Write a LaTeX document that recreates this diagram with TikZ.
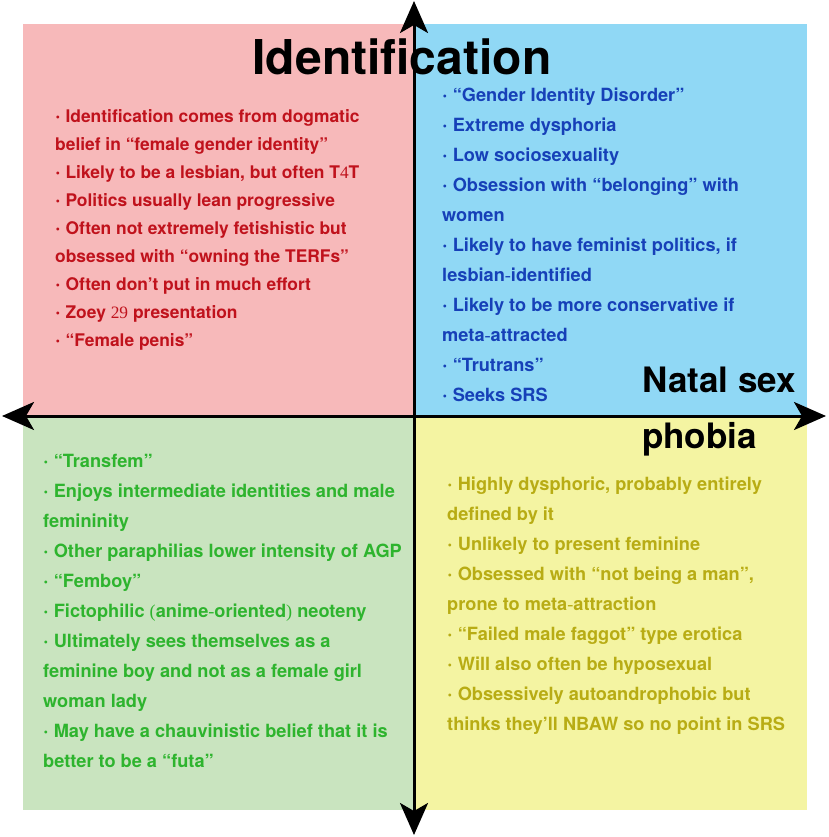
\documentclass[tikz,border=0pt]{standalone}
\usepackage{fontspec}
\setmainfont{TeX Gyre Heros}
\newfontfamily\oddserif{Liberation Serif}
\usetikzlibrary{arrows.meta}
\definecolor{pinkq}{HTML}{F7B9BA}
\definecolor{blueq}{HTML}{90D8F5}
\definecolor{greenq}{HTML}{C9E4BF}
\definecolor{yellowq}{HTML}{F4F4A2}
\definecolor{redtxt}{HTML}{C0121C}
\definecolor{bluetxt}{HTML}{1640B8}
\definecolor{greentxt}{HTML}{2EB42E}
\definecolor{yellowtxt}{HTML}{B8AC14}
\newcommand{\sr}[1]{{\oddserif\mdseries #1}}
\newcommand{\bul}{{\fontsize{20}{20}\selectfont·}\ }

\begin{document}
\begin{tikzpicture}[x=1pt, y=-1pt, >={Stealth[length=32pt,width=28pt,inset=8pt]},
  bullets/.style={anchor=base west, align=left, inner sep=0pt, font=\bfseries\fontsize{18.2}{30}\selectfont},
  axislabel/.style={anchor=base west, inner sep=0pt, font=\bfseries\fontsize{35}{40}\selectfont}]
\useasboundingbox (0,0) rectangle (828,837);
% quadrants
\fill[pinkq] (23,24) rectangle (414,416);
\fill[blueq] (414,24) rectangle (807,416);
\fill[greenq] (23,416) rectangle (414,810);
\fill[yellowq] (414,416) rectangle (807,810);
% axes
\coordinate (W) at (2,416); \coordinate (E) at (826,416);
\coordinate (N) at (414,1); \coordinate (S) at (414,835);
\draw[line width=3pt, <->] (W) -- (E);
\draw[line width=3pt, <->] (S) -- (N);
% axis labels
\node[anchor=base, inner sep=0pt, font=\bfseries\fontsize{48}{50}\selectfont] (ident) at (402,75) {Identification};
\node[axislabel] (natal) at (642,392) {Natal sex};
\node[axislabel] (phob) at (642,448) {phobia};
% quadrant texts (anchored at the last baseline)
\node[bullets, redtxt, font=\bfseries\fontsize{17.4}{28}\selectfont] (tl) at (55,346) {%
\bul Identification comes from dogmatic\\
belief in “female gender identity”\\
\bul Likely to be a lesbian, but often T\sr{4}T\\
\bul Politics usually lean progressive\\
\bul Often not extremely fetishistic but\\
obsessed with “owning the TERFs”\\
\bul Often don’t put in much effort\\
\bul Zoey \sr{29} presentation\\
\bul “Female penis”};
\node[bullets, bluetxt] (tr) at (442,401) {%
\bul “Gender Identity Disorder”\\
\bul Extreme dysphoria\\
\bul Low sociosexuality\\
\bul Obsession with “belonging” with\\
women\\
\bul Likely to have feminist politics, if\\
lesbian\sr{-}identified\\
\bul Likely to be more conservative if\\
meta\sr{-}attracted\\
\bul “Trutrans”\\
\bul Seeks SRS};
\node[bullets, greentxt] (bl) at (43,767) {%
\bul “Transfem”\\
\bul Enjoys intermediate identities and male\\
femininity\\
\bul Other paraphilias lower intensity of AGP\\
\bul “Femboy”\\
\bul Fictophilic \sr{(}anime\sr{-}oriented\sr{)} neoteny\\
\bul Ultimately sees themselves as a\\
feminine boy and not as a female girl\\
woman lady\\
\bul May have a chauvinistic belief that it is\\
better to be a “futa”};
\node[bullets, yellowtxt] (br) at (447,730) {%
\bul Highly dysphoric, probably entirely\\
defined by it\\
\bul Unlikely to present feminine\\
\bul Obsessed with “not being a man”,\\
prone to meta\sr{-}attraction\\
\bul “Failed male faggot” type erotica\\
\bul Will also often be hyposexual\\
\bul Obsessively autoandrophobic but\\
thinks they’ll NBAW so no point in SRS};
\end{tikzpicture}
\end{document}
